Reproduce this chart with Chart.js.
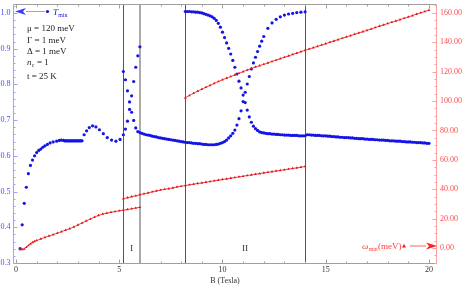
<!DOCTYPE html>
<html>
<head>
<meta charset="utf-8">
<script src="https://cdn.jsdelivr.net/npm/chart.js@4.4.1/dist/chart.umd.min.js"></script>
<style>
  html, body { margin: 0; padding: 0; background: #fff; }
  #wrap { width: 463px; height: 285px; }
</style>
</head>
<body>
<div id="wrap"><canvas id="chart" width="463" height="285"></canvas></div>
<script>
// ---- data ----
// B in Tesla; T_min on the left axis, omega_min (meV) on the right axis

const xTicks = [0, 5, 10, 15, 20];
const tTicks = [0.3, 0.4, 0.5, 0.6, 0.7, 0.8, 0.9, 1.0];
const tTickLabels = ['0.3', '0.4', '0.5', '0.6', '0.7', '0.8', '0.9', '1.0'];
const wTicks = [0, 20, 40, 60, 80, 100, 120, 140, 160];
const wTickLabels = ['0.00', '20.00', '40.00', '60.00', '80.00', '100.00', '120.00', '140.00', '160.00'];

const regionLines = [5.2, 6.0, 8.2, 14.0];
const regionNames = ['I', 'II'];
const regionNameB = [5.6, 11.1];

const params = ['μ = 120 meV', 'Γ = 1 meV', 'Δ = 1 meV', 'n_c = 1', 't = 25 K'];

// T_min, main branch (0.2 .. 6.0)
const tMainB = [0.2, 0.3, 0.4, 0.5, 0.6, 0.7, 0.8, 0.9, 1.0, 1.1, 1.2, 1.3, 1.4, 1.52, 1.65, 1.8, 1.97, 2.1, 2.2, 2.3,
  2.35, 2.4, 2.45, 2.5, 2.55, 2.6, 2.65, 2.7, 2.75, 2.8, 2.85, 2.9, 2.95, 3.0, 3.05, 3.1, 3.15, 3.2,
  3.3, 3.42, 3.55, 3.71, 3.87, 4.04, 4.23, 4.42, 4.63, 4.84, 5.04, 5.2,
  5.3, 5.4, 5.5, 5.6, 5.7, 5.8, 5.9, 6.0];
const tMainV = [0.34, 0.407, 0.467, 0.512, 0.550, 0.573, 0.588, 0.600, 0.609, 0.615, 0.619, 0.624, 0.628, 0.632, 0.636, 0.639, 0.641, 0.643, 0.644, 0.643,
  0.642, 0.642, 0.642, 0.642, 0.642, 0.642, 0.642, 0.642, 0.642, 0.642, 0.642, 0.642, 0.642, 0.642, 0.642, 0.642, 0.642, 0.642,
  0.659, 0.670, 0.679, 0.684, 0.681, 0.673, 0.662, 0.651, 0.644, 0.641, 0.646, 0.659,
  0.675, 0.697, 0.730, 0.768, 0.808, 0.848, 0.880, 0.905];

// T_min, branch falling in region I, minimum near 9.4, rising to 1 in region II
const tLowB = [5.2, 5.3, 5.4, 5.5, 5.6, 5.7, 5.8, 5.9, 6.0, 6.1,
  6.2, 6.3, 6.4, 6.5, 6.6, 6.7, 6.8, 6.9, 7.0, 7.1,
  7.2, 7.3, 7.4, 7.5, 7.6, 7.7, 7.8, 7.9, 8.0, 8.1,
  8.2, 8.3, 8.4, 8.5, 8.6, 8.7, 8.8, 8.9, 9.0, 9.1,
  9.2, 9.3, 9.4, 9.5, 9.6, 9.7, 9.8, 9.9, 10.0, 10.1,
  10.2, 10.3, 10.4, 10.5, 10.6, 10.7, 10.8, 10.9, 11.0, 11.1,
  11.2, 11.3, 11.4, 11.5, 11.6, 11.7, 11.8, 11.9, 12.0,
  12.2, 12.4, 12.6, 12.8, 13.0, 13.2, 13.4, 13.6, 13.8, 14.0];
const tLowV = [0.836, 0.813, 0.782, 0.751, 0.722, 0.699, 0.678, 0.668, 0.665, 0.663,
  0.661, 0.659, 0.658, 0.657, 0.655, 0.654, 0.653, 0.651, 0.650, 0.649,
  0.648, 0.647, 0.646, 0.645, 0.644, 0.643, 0.642, 0.641, 0.640, 0.639,
  0.638, 0.637, 0.637, 0.636, 0.635, 0.635, 0.634, 0.634, 0.633, 0.632,
  0.632, 0.631, 0.631, 0.631, 0.631, 0.632, 0.633, 0.635, 0.637, 0.640,
  0.644, 0.650, 0.656, 0.663, 0.672, 0.686, 0.704, 0.726, 0.752, 0.778,
  0.801, 0.822, 0.843, 0.860, 0.876, 0.892, 0.907, 0.921, 0.934,
  0.957, 0.972, 0.982, 0.989, 0.994, 0.997, 0.999, 1.001, 1.002, 1.003];

// T_min, upper branch in region II falling from 1
const tHighB = [8.2, 8.3, 8.4, 8.5, 8.6, 8.7, 8.8, 8.9, 9.0, 9.1,
  9.2, 9.3, 9.4, 9.5, 9.6, 9.7, 9.8, 9.9, 10.0, 10.1,
  10.2, 10.3, 10.4, 10.5, 10.6, 10.7, 10.8, 10.9, 11.0, 11.1,
  11.2, 11.3, 11.4, 11.5, 11.6, 11.7, 11.8, 11.9, 12.0, 12.1,
  12.2, 12.3, 12.4, 12.5, 12.6, 12.7, 12.8, 12.9, 13.0, 13.1,
  13.2, 13.3, 13.4, 13.5, 13.6, 13.7, 13.8, 13.9, 14.0];
const tHighV = [1.004, 1.004, 1.004, 1.003, 1.003, 1.002, 1.002, 1.001, 1.000, 0.998,
  0.996, 0.994, 0.992, 0.989, 0.985, 0.979, 0.971, 0.960, 0.946, 0.931,
  0.916, 0.901, 0.885, 0.867, 0.848, 0.829, 0.809, 0.790, 0.770, 0.749,
  0.728, 0.709, 0.694, 0.683, 0.676, 0.671, 0.667, 0.665, 0.664, 0.663,
  0.662, 0.662, 0.661, 0.661, 0.660, 0.660, 0.659, 0.659, 0.658, 0.658,
  0.658, 0.657, 0.657, 0.657, 0.657, 0.656, 0.656, 0.656, 0.656];

// T_min above 14 T
const tTailB = [14.1, 14.2, 14.3, 14.4, 14.5, 14.6, 14.7, 14.8, 14.9, 15.0,
  15.1, 15.2, 15.3, 15.4, 15.5, 15.6, 15.7, 15.8, 15.9, 16.0,
  16.1, 16.2, 16.3, 16.4, 16.5, 16.6, 16.7, 16.8, 16.9, 17.0,
  17.1, 17.2, 17.3, 17.4, 17.5, 17.6, 17.7, 17.8, 17.9, 18.0,
  18.1, 18.2, 18.3, 18.4, 18.5, 18.6, 18.7, 18.8, 18.9, 19.0,
  19.1, 19.2, 19.3, 19.4, 19.5, 19.6, 19.7, 19.8, 19.9, 20.0];
const tTailV = [0.659, 0.659, 0.658, 0.658, 0.657, 0.657, 0.657, 0.656, 0.656, 0.656,
  0.655, 0.655, 0.654, 0.654, 0.653, 0.653, 0.652, 0.652, 0.651, 0.651,
  0.651, 0.650, 0.650, 0.649, 0.649, 0.648, 0.648, 0.648, 0.647, 0.647,
  0.646, 0.646, 0.646, 0.645, 0.645, 0.644, 0.644, 0.644, 0.643, 0.643,
  0.642, 0.642, 0.642, 0.641, 0.641, 0.641, 0.640, 0.640, 0.639, 0.639,
  0.639, 0.638, 0.638, 0.637, 0.637, 0.637, 0.636, 0.636, 0.635, 0.635];

// omega_min, lowest branch (0.2 .. 6.0)
const wLowB = [0.2, 0.3, 0.4, 0.5, 0.6, 0.7, 0.8, 0.9, 1.0,
  1.2, 1.4, 1.6, 1.8, 2.0, 2.2, 2.4, 2.6, 2.8, 3.0, 3.2, 3.4, 3.6, 3.8, 4.0, 4.2, 4.4, 4.6, 4.8, 5.0, 5.2, 5.4, 5.6, 5.8, 6.0];
const wLowV = [-0.9, -0.9, -0.5, 0.6, 1.8, 2.9, 3.9, 4.6, 5.2,
  6.3, 7.3, 8.3, 9.2, 10.2, 11.2, 12.2, 13.3, 14.4, 15.8, 17.1, 18.5, 19.8, 21.1, 22.3, 23.2, 23.8, 24.4, 24.9, 25.4, 25.8, 26.3, 26.8, 27.3, 27.8];

// omega_min, middle branch (5.2 .. 14)
const wMidB = [5.2, 5.4, 5.6, 5.8, 6.0, 6.2, 6.4, 6.6, 6.8, 7.0,
  7.2, 7.4, 7.6, 7.8, 8.0, 8.2, 8.4, 8.6, 8.8, 9.0,
  9.2, 9.4, 9.6, 9.8, 10.0, 10.2, 10.4, 10.6, 10.8, 11.0,
  11.2, 11.4, 11.6, 11.8, 12.0, 12.2, 12.4, 12.6, 12.8, 13.0,
  13.2, 13.4, 13.6, 13.8, 14.0];
const wMidV = [33.6, 34.3, 35.0, 35.6, 36.3, 37.0, 37.6, 38.3, 38.9, 39.5,
  40.0, 40.5, 41.0, 41.6, 42.1, 42.6, 43.1, 43.5, 44.0, 44.4,
  44.9, 45.3, 45.8, 46.2, 46.7, 47.1, 47.6, 48.0, 48.5, 48.9,
  49.4, 49.8, 50.3, 50.7, 51.2, 51.6, 52.0, 52.5, 52.9, 53.3,
  53.8, 54.2, 54.6, 55.1, 55.5];

// omega_min, upper branch (8.2 .. 20)
const wHighB = [8.2, 8.4, 8.6, 8.8, 9.0, 9.2, 9.4, 9.6, 9.8, 10.0,
  10.2, 10.4, 10.6, 10.8, 11.0, 11.2, 11.4, 11.6, 11.8, 12.0,
  12.2, 12.4, 12.6, 12.8, 13.0, 13.2, 13.4, 13.6, 13.8, 14.0,
  14.2, 14.4, 14.6, 14.8, 15.0, 15.2, 15.4, 15.6, 15.8, 16.0,
  16.2, 16.4, 16.6, 16.8, 17.0, 17.2, 17.4, 17.6, 17.8, 18.0,
  18.2, 18.4, 18.6, 18.8, 19.0, 19.2, 19.4, 19.6, 19.8, 20.0];
const wHighV = [102.2, 103.8, 105.3, 106.7, 108.1, 109.4, 110.7, 112.0, 113.3, 114.5,
  115.6, 116.7, 117.8, 118.9, 120.0, 121.1, 122.2, 123.2, 124.1, 125.0,
  126.0, 126.9, 127.9, 128.8, 129.8, 130.7, 131.7, 132.6, 133.6, 134.5,
  135.4, 136.3, 137.2, 138.1, 139.0, 140.0, 140.9, 141.8, 142.7, 143.6,
  144.5, 145.4, 146.3, 147.2, 148.1, 149.0, 150.0, 150.9, 151.8, 152.7,
  153.6, 154.5, 155.4, 156.3, 157.2, 158.1, 159.1, 160.0, 160.9, 161.8];

const BLUE = '#1414e6';
const RED = '#e61414';
const SERIF = '"Liberation Serif", "DejaVu Serif", serif';

function pairs(bs, vs) {
  return bs.map((b, i) => ({ x: b, y: vs[i] }));
}

// red marks sit so close together in the figure that they read as a hatched line
function redSet(bs, vs) {
  return {
    data: pairs(bs, vs), yAxisID: 'y2',
    showLine: true, borderWidth: 1, borderColor: 'rgba(235,40,40,0.85)',
    pointStyle: 'triangle', pointRadius: 1.6, pointBorderWidth: 0,
    pointBackgroundColor: RED, pointBorderColor: RED
  };
}

function blueSet(bs, vs) {
  return {
    data: pairs(bs, vs), yAxisID: 'y',
    pointStyle: 'circle', pointRadius: 1.6, borderWidth: 0,
    backgroundColor: BLUE, borderColor: BLUE
  };
}

// text with a subscript, returns x where it ends
function subText(ctx, x, y, main, sub, size, italic, rest) {
  ctx.font = (italic ? 'italic ' : '') + size + 'px ' + SERIF;
  ctx.fillText(main, x, y);
  x += ctx.measureText(main).width;
  ctx.font = (size * 0.65) + 'px ' + SERIF;
  ctx.fillText(sub, x + 0.3, y + 2);
  x += ctx.measureText(sub).width + 0.6;
  if (rest) {
    ctx.font = size + 'px ' + SERIF;
    ctx.fillText(rest, x, y);
    x += ctx.measureText(rest).width;
  }
  return x;
}

function arrow(ctx, x0, x1, y, headLen, color, lineColor) {
  ctx.strokeStyle = lineColor;
  ctx.lineWidth = 1;
  ctx.beginPath();
  ctx.moveTo(x0, y + 0.5);
  ctx.lineTo(x1 - Math.sign(x1 - x0) * headLen, y + 0.5);
  ctx.stroke();
  ctx.fillStyle = color;
  const d = Math.sign(x1 - x0);
  ctx.beginPath();
  ctx.moveTo(x1, y + 0.5);
  ctx.lineTo(x1 - d * headLen, y - 3);
  ctx.lineTo(x1 - d * (headLen - 3), y + 0.5);
  ctx.lineTo(x1 - d * headLen, y + 4);
  ctx.closePath();
  ctx.fill();
}

const framePlugin = {
  id: 'frame',
  beforeDatasetsDraw(chart) {
    const { ctx, chartArea: a, scales: { x } } = chart;
    const styles = [['#555555', 1], ['#aaaaaa', 2], ['#555555', 1], ['#555555', 1]];
    ctx.save();
    regionLines.forEach((b, i) => {
      const px = Math.round(x.getPixelForValue(b)) + (styles[i][1] === 1 ? 0.5 : 0);
      ctx.strokeStyle = styles[i][0];
      ctx.lineWidth = styles[i][1];
      ctx.beginPath();
      ctx.moveTo(px, a.top);
      ctx.lineTo(px, a.bottom);
      ctx.stroke();
    });
    ctx.fillStyle = '#222';
    ctx.font = '8.5px ' + SERIF;
    ctx.textAlign = 'center';
    ctx.textBaseline = 'alphabetic';
    regionNames.forEach((t, i) => {
      ctx.fillText(t, x.getPixelForValue(regionNameB[i]), a.bottom - 12);
    });
    ctx.restore();
  },
  afterDraw(chart) {
    const { ctx, chartArea: a, scales: { x, y, y2 } } = chart;
    ctx.save();
    ctx.lineWidth = 1;

    // frame
    const L = a.left + 0.5, R = a.right - 0.5, T = a.top + 0.5, B = a.bottom + 0.5;
    ctx.strokeStyle = '#a0a0a0';
    ctx.beginPath(); ctx.moveTo(L, B); ctx.lineTo(R, B); ctx.moveTo(L, T); ctx.lineTo(R, T); ctx.stroke();
    ctx.strokeStyle = '#a0a0ff';
    ctx.beginPath(); ctx.moveTo(L, T); ctx.lineTo(L, B); ctx.stroke();
    ctx.strokeStyle = '#ff9c9c';
    ctx.beginPath(); ctx.moveTo(R, T); ctx.lineTo(R, B); ctx.stroke();

    // x ticks (bottom and top)
    ctx.strokeStyle = '#a0a0a0';
    ctx.beginPath();
    for (let v = 0; v <= 20; v += 1) {
      const px = Math.round(x.getPixelForValue(v)) + 0.5;
      const len = v % 5 === 0 ? 4 : 2;
      ctx.moveTo(px, B); ctx.lineTo(px, B - len);
      ctx.moveTo(px, T); ctx.lineTo(px, T + len);
    }
    ctx.stroke();

    // left ticks
    ctx.strokeStyle = '#a0a0ff';
    ctx.beginPath();
    for (let k = 0; k <= 36; k++) {
      const v = 0.3 + k * 0.02;
      const py = Math.round(y.getPixelForValue(v)) + 0.5;
      const len = k % 5 === 0 ? 4 : 2;
      ctx.moveTo(L, py); ctx.lineTo(L + len, py);
    }
    ctx.stroke();

    // right ticks
    ctx.strokeStyle = '#ff9c9c';
    ctx.beginPath();
    for (let v = -10; v <= 165; v += 5) {
      const py = Math.round(y2.getPixelForValue(v)) + 0.5;
      const len = v % 20 === 0 ? 4 : 2;
      ctx.moveTo(R, py); ctx.lineTo(R - len, py);
    }
    ctx.stroke();

    // tick labels
    ctx.font = '8px ' + SERIF;
    ctx.textBaseline = 'middle';
    ctx.fillStyle = '#333';
    ctx.textAlign = 'center';
    xTicks.forEach(v => ctx.fillText(String(v), x.getPixelForValue(v), a.bottom + 6.5));
    ctx.fillStyle = '#4a4aff';
    ctx.textAlign = 'right';
    tTicks.forEach((v, i) => ctx.fillText(tTickLabels[i], a.left - 2.5, y.getPixelForValue(v)));
    ctx.fillStyle = '#ff4a4a';
    ctx.textAlign = 'left';
    wTicks.forEach((v, i) => ctx.fillText(wTickLabels[i], a.right + 3, y2.getPixelForValue(v)));

    // axis title
    ctx.fillStyle = '#333';
    ctx.textAlign = 'center';
    ctx.fillText('B (Tesla)', (a.left + a.right) / 2, a.bottom + 17.5);

    // parameters block
    ctx.fillStyle = '#222';
    ctx.textAlign = 'left';
    ctx.textBaseline = 'alphabetic';
    const rows = [31, 42.5, 53.5, 65, 78.5];
    params.forEach((p, i) => {
      if (p.indexOf('_') > 0) {
        const [head, tail] = p.split('_');
        const sub = tail.charAt(0);
        subText(ctx, 27, rows[i], head, sub, 9, true, tail.slice(1));
      } else {
        ctx.font = '9px ' + SERIF;
        ctx.fillText(p, 27, rows[i]);
      }
    });

    // left legend: arrow, dot, T_min
    arrow(ctx, 45, 15, 11, 11, '#3c3cff', '#9a9aff');
    ctx.fillStyle = BLUE;
    ctx.beginPath(); ctx.arc(47.5, 11.5, 1.6, 0, Math.PI * 2); ctx.fill();
    subText(ctx, 53, 14.5, 'T', 'min', 9, true);

    // right legend: omega_min(meV), marker, arrow
    ctx.fillStyle = '#ff3c3c';
    subText(ctx, 362, 249, 'ω', 'min', 9, true, '(meV)');
    ctx.fillStyle = RED;
    ctx.beginPath(); ctx.moveTo(404, 244); ctx.lineTo(406, 247.5); ctx.lineTo(402, 247.5); ctx.closePath(); ctx.fill();
    arrow(ctx, 410, 437, 245.5, 11, '#ff2020', '#ff6060');

    ctx.restore();
  }
};

new Chart(document.getElementById('chart'), {
  type: 'scatter',
  data: {
    datasets: [
      redSet(wLowB, wLowV),
      redSet(wMidB, wMidV),
      redSet(wHighB, wHighV),
      blueSet(tMainB, tMainV),
      blueSet(tLowB, tLowV),
      blueSet(tHighB, tHighV),
      blueSet(tTailB, tTailV)
    ]
  },
  options: {
    responsive: false,
    animation: false,
    devicePixelRatio: 1,
    layout: { padding: { left: 13, right: 26, top: 1, bottom: 22 } },
    plugins: { legend: { display: false }, tooltip: { enabled: false } },
    scales: {
      x: { type: 'linear', min: -0.145, max: 20.39, display: false },
      y: { type: 'linear', position: 'left', min: 0.3, max: 1.025, display: false },
      y2: { type: 'linear', position: 'right', min: -10.1, max: 166, display: false }
    }
  },
  plugins: [framePlugin]
});
</script>
</body>
</html>
